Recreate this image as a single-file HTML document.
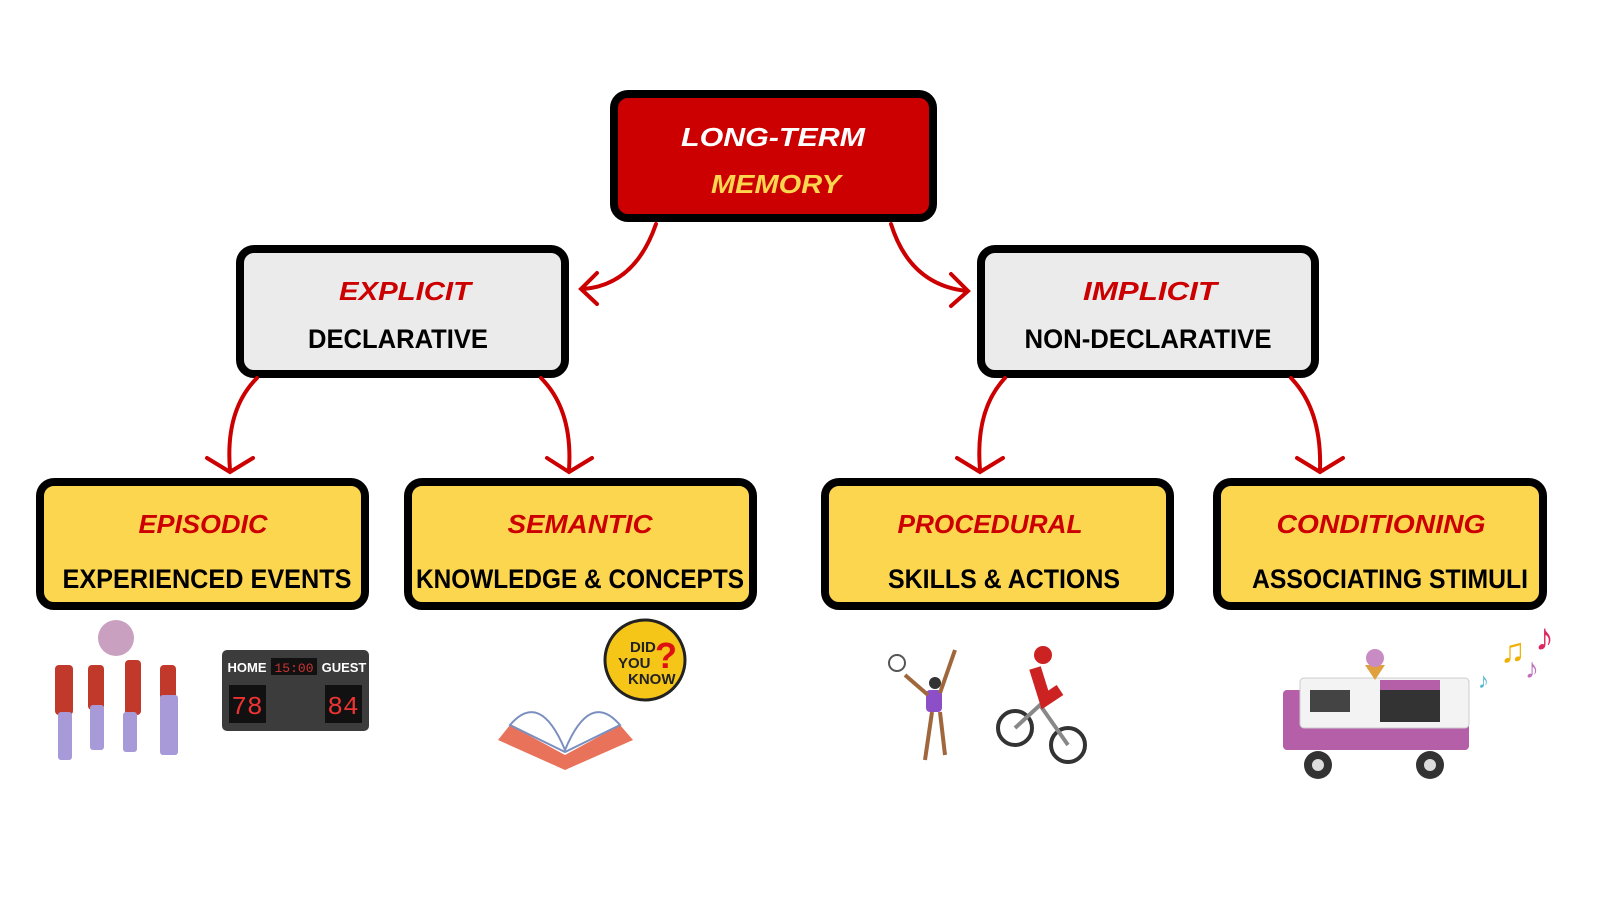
<!DOCTYPE html>
<html><head><meta charset="utf-8"><style>
html,body{margin:0;padding:0;background:#fff}
svg{display:block}
.r{font-family:"Liberation Sans",sans-serif;font-weight:bold;font-style:italic;fill:#cc0000;font-size:26px}
.k{font-family:"Liberation Sans",sans-serif;font-weight:bold;fill:#000;font-size:27px}
</style></head><body>
<svg width="1600" height="900" viewBox="0 0 1600 900" xmlns="http://www.w3.org/2000/svg">
<g stroke="#000" stroke-width="8">
<rect x="614" y="94" width="319" height="124" rx="14" fill="#cc0000"/>
<rect x="240" y="249" width="325" height="125" rx="14" fill="#ebebeb"/>
<rect x="981" y="249" width="334" height="125" rx="14" fill="#ebebeb"/>
<rect x="40" y="482" width="325" height="124" rx="14" fill="#fdd64f"/>
<rect x="408" y="482" width="345" height="124" rx="14" fill="#fdd64f"/>
<rect x="825" y="482" width="345" height="124" rx="14" fill="#fdd64f"/>
<rect x="1217" y="482" width="326" height="124" rx="14" fill="#fdd64f"/>
</g>
<g text-anchor="middle" lengthAdjust="spacingAndGlyphs">
<text x="773" y="146" class="r" style="fill:#fff" textLength="184" lengthAdjust="spacingAndGlyphs">LONG-TERM</text>
<text x="776" y="193" class="r" style="fill:#fdd64f" textLength="130" lengthAdjust="spacingAndGlyphs">MEMORY</text>
<text x="405" y="300" class="r" textLength="132" lengthAdjust="spacingAndGlyphs">EXPLICIT</text>
<text x="398" y="348" class="k" textLength="180" lengthAdjust="spacingAndGlyphs">DECLARATIVE</text>
<text x="1150" y="300" class="r" textLength="134" lengthAdjust="spacingAndGlyphs">IMPLICIT</text>
<text x="1148" y="348" class="k" textLength="247" lengthAdjust="spacingAndGlyphs">NON-DECLARATIVE</text>
<text x="203" y="533" class="r" textLength="129" lengthAdjust="spacingAndGlyphs">EPISODIC</text>
<text x="207" y="588" class="k" textLength="289" lengthAdjust="spacingAndGlyphs">EXPERIENCED EVENTS</text>
<text x="580" y="533" class="r" textLength="145" lengthAdjust="spacingAndGlyphs">SEMANTIC</text>
<text x="580" y="588" class="k" textLength="328" lengthAdjust="spacingAndGlyphs">KNOWLEDGE &amp; CONCEPTS</text>
<text x="990" y="533" class="r" textLength="185" lengthAdjust="spacingAndGlyphs">PROCEDURAL</text>
<text x="1004" y="588" class="k" textLength="232" lengthAdjust="spacingAndGlyphs">SKILLS &amp; ACTIONS</text>
<text x="1381" y="533" class="r" textLength="209" lengthAdjust="spacingAndGlyphs">CONDITIONING</text>
<text x="1390" y="588" class="k" textLength="276" lengthAdjust="spacingAndGlyphs">ASSOCIATING STIMULI</text>
</g>
<g fill="none" stroke="#cc0000" stroke-width="4" stroke-linecap="round">
<path d="M656 224 Q635 285 583 289"/><path d="M597 273 L581 289 L597 304"/>
<path d="M891 224 Q910 285 967 291"/><path d="M951 274 L968 291 L951 306"/>
<path d="M257 378 Q225 410 230 470"/><path d="M207 458 L230 472 L253 458"/>
<path d="M541 378 Q573 410 569 470"/><path d="M547 458 L569 472 L592 458"/>
<path d="M1005 378 Q975 410 980 470"/><path d="M957 458 L980 472 L1003 458"/>
<path d="M1291 378 Q1322 410 1320 470"/><path d="M1297 458 L1320 472 L1343 458"/>
</g>
<!-- dancers -->
<circle cx="116" cy="638" r="18" fill="#c9a0c0"/>
<g fill="#c0392b"><rect x="55" y="665" width="18" height="50" rx="4"/><rect x="88" y="665" width="16" height="45" rx="4"/><rect x="125" y="660" width="16" height="55" rx="4"/><rect x="160" y="665" width="16" height="35" rx="4"/></g>
<g fill="#a89ad8"><rect x="90" y="705" width="14" height="45" rx="3"/><rect x="160" y="695" width="18" height="60" rx="3"/><rect x="58" y="712" width="14" height="48" rx="3"/><rect x="123" y="712" width="14" height="40" rx="3"/></g>
<!-- scoreboard -->
<rect x="222" y="650" width="147" height="81" rx="5" fill="#3c3c3c"/>
<text x="247" y="672" font-family="Liberation Sans" font-weight="bold" font-size="13" fill="#fff" text-anchor="middle">HOME</text>
<text x="344" y="672" font-family="Liberation Sans" font-weight="bold" font-size="13" fill="#fff" text-anchor="middle">GUEST</text>
<rect x="271" y="658" width="46" height="17" fill="#111"/><text x="294" y="672" font-family="Liberation Mono" font-size="13" fill="#c33" text-anchor="middle">15:00</text>
<rect x="229" y="685" width="37" height="38" fill="#111"/><text x="247" y="714" font-family="Liberation Mono" font-size="26" fill="#e33" text-anchor="middle">78</text>
<rect x="325" y="685" width="37" height="38" fill="#111"/><text x="343" y="714" font-family="Liberation Mono" font-size="26" fill="#e33" text-anchor="middle">84</text>
<!-- book + bubble -->
<path d="M498 740 L565 770 L633 740 L620 725 L565 755 L510 725 Z" fill="#e8735a"/>
<path d="M510 725 Q540 690 565 750 Q590 690 620 725 L565 752 Z" fill="#fff" stroke="#7a8fc0" stroke-width="2"/>
<circle cx="645" cy="660" r="40" fill="#f5c518" stroke="#222" stroke-width="3"/>
<text x="630" y="652" font-family="Liberation Sans" font-weight="bold" font-size="15" fill="#222">DID</text>
<text x="618" y="668" font-family="Liberation Sans" font-weight="bold" font-size="15" fill="#222">YOU</text>
<text x="628" y="684" font-family="Liberation Sans" font-weight="bold" font-size="15" fill="#222">KNOW</text>
<text x="655" y="668" font-family="Liberation Sans" font-weight="bold" font-size="36" fill="#d11">?</text>
<!-- tennis -->
<circle cx="935" cy="683" r="6" fill="#333"/><rect x="926" y="690" width="16" height="22" rx="4" fill="#8d4fc8"/>
<path d="M932 712 L925 760 M940 712 L945 755 M928 695 L905 675 M940 693 L955 650" stroke="#a0673d" stroke-width="4"/>
<circle cx="897" cy="663" r="8" fill="none" stroke="#555" stroke-width="2"/>
<!-- cyclist -->
<circle cx="1015" cy="728" r="17" fill="none" stroke="#333" stroke-width="4"/><circle cx="1068" cy="745" r="17" fill="none" stroke="#333" stroke-width="4"/>
<path d="M1015 728 L1040 705 L1068 745" stroke="#888" stroke-width="4" fill="none"/>
<path d="M1035 668 L1045 700 L1060 690" stroke="#c22" stroke-width="12" fill="none"/><circle cx="1043" cy="655" r="9" fill="#c22"/>
<!-- van -->
<rect x="1283" y="690" width="186" height="60" rx="4" fill="#b45fa8"/>
<rect x="1300" y="678" width="169" height="50" rx="4" fill="#f3f3f3" stroke="#ccc"/>
<rect x="1310" y="690" width="40" height="22" fill="#444"/><rect x="1380" y="690" width="60" height="32" fill="#333"/>
<path d="M1380 680 h60 v10 h-60z" fill="#b45fa8"/>
<circle cx="1318" cy="765" r="14" fill="#333"/><circle cx="1430" cy="765" r="14" fill="#333"/>
<circle cx="1318" cy="765" r="6" fill="#ddd"/><circle cx="1430" cy="765" r="6" fill="#ddd"/>
<path d="M1365 665 L1375 680 L1385 665Z" fill="#e0a040"/><circle cx="1375" cy="658" r="9" fill="#c88bc4"/>
<text x="1500" y="662" font-size="34" fill="#f0b000">♫</text><text x="1535" y="650" font-size="38" fill="#e0245e">♪</text>
<text x="1525" y="678" font-size="28" fill="#c070c0">♪</text><text x="1478" y="688" font-size="22" fill="#50b8d0">♪</text>
</svg>
</body></html>
